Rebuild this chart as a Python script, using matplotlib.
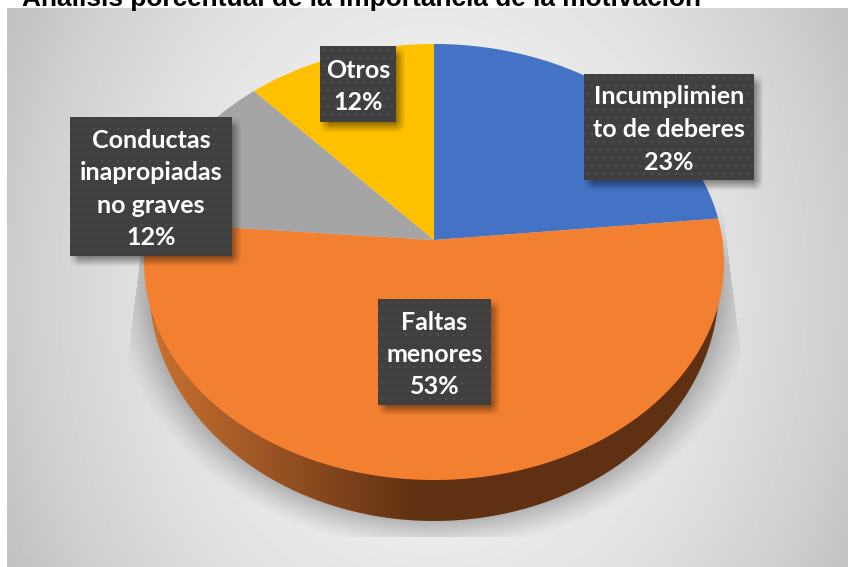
import numpy as np
import matplotlib
matplotlib.use("Agg")
import matplotlib.pyplot as plt
from matplotlib.patches import Polygon

W, H = 848, 567

title = "Análisis porcentual de la importancia de la motivación"
names = ["Incumplimien\nto de deberes", "Faltas\nmenores", "Conductas\ninapropiadas\nno graves", "Otros"]
shares = [23.4, 52.9, 12.0, 11.7]
colors = ["#4472C4", "#F37F31", "#A5A5A5", "#FFC000"]
# label boxes: left, top, right, bottom in pixels
boxes = [(584, 74, 754, 180), (378, 299, 491, 405), (70, 117, 232, 256), (320, 46, 396, 122)]

# pie in perspective
cx, cy = 434, 240
k = 0.1009
A, B = 288.5, 215.8
# rim of the bottom face
low_cy, low_rx, low_ry = 285, 285, 236


def project(theta):
    u, v = np.sin(theta), np.cos(theta)
    w = 1 + k * v
    return cx + A * u / w, cy - B * v / w


def box_shadow(ax, left, top, right, bottom, dx=4, dy=5, blur=5):
    xs = np.arange(left - 12, right + 18)
    ys = np.arange(top - 12, bottom + 18)
    xx, yy = np.meshgrid(xs, ys)
    ax_x = np.clip((xx - (left + dx) + blur) / (2 * blur), 0, 1) * np.clip(((right + dx) + blur - xx) / (2 * blur), 0, 1)
    ax_y = np.clip((yy - (top + dy) + blur) / (2 * blur), 0, 1) * np.clip(((bottom + dy) + blur - yy) / (2 * blur), 0, 1)
    img = np.zeros(xx.shape + (4,))
    img[..., 3] = 0.42 * ax_x * ax_y
    ax.imshow(img, extent=(xs[0], xs[-1] + 1, ys[-1] + 1, ys[0]), aspect="auto", zorder=5)


def box_fill(ax, left, top, right, bottom):
    xs = np.arange(left, right)
    ys = np.arange(top, bottom)
    xx, yy = np.meshgrid(xs, ys)
    img = np.full(xx.shape + (3,), 0x40 / 255)
    row = (yy - top - 3) // 4
    dots = ((yy - top - 3) % 8 < 2) & ((xx - left - 3 - 4 * (row // 2 % 2)) % 8 < 2)
    img[dots] = 0x4E / 255
    ax.imshow(img, extent=(left, right, bottom, top), aspect="auto", interpolation="nearest", zorder=6)


fig = plt.figure(figsize=(W / 100, H / 100), dpi=100, facecolor="white")
ax = fig.add_axes([0, 0, 1, 1])

# panel background
xx, yy = np.meshgrid(np.arange(7, W) + 0.5, np.arange(8, H) + 0.5)
rho = ((xx - 434) / 560) ** 2 + ((yy - 290) / 700) ** 2
grey = (0xF3 - 0x38 * rho / 0.81) / 255
ax.imshow(grey, cmap="gray", vmin=0, vmax=1, extent=(7, W, H, 8), aspect="auto", zorder=1)

# soft shadow under the pie
rho = np.sqrt(((xx - cx) / low_rx) ** 2 + ((yy - low_cy) / low_ry) ** 2)
dist = (rho - 1) * 260
alpha = 0.24 * np.clip(1 - dist / 34, 0, 1) ** 1.3 * np.clip((yy - 205) / 60, 0, 1)
left_lim = 147 + (yy - 205) * (125 - 147) / (380 - 205)
right_lim = 722 + (yy - 205) * (745 - 722) / (385 - 205)
alpha[(xx < left_lim) | (xx > right_lim) | (yy > 537)] = 0
shadow = np.zeros(xx.shape + (4,))
shadow[..., 3] = alpha
ax.imshow(shadow, extent=(7, W, H, 8), aspect="auto", zorder=2)

# side wall
t = np.linspace(0, 2 * np.pi, 361)
rim = Polygon(np.c_[cx + low_rx * np.cos(t), low_cy + low_ry * np.sin(t)], closed=True, transform=ax.transData, fc="none", ec="none")
ax.add_patch(rim)
wx = np.arange(140, 730) + 0.5
wall = np.stack([np.interp(wx, [150, 420], [c0, c1]) for c0, c1 in [(202, 95), (113, 48), (48, 18)]], axis=-1) / 255
wall_im = ax.imshow(wall[None, :, :], extent=(140, 730, 530, 250), aspect="auto", zorder=3)
wall_im.set_clip_path(rim)

# top face
start = 0.0
for share, color in zip(shares, colors):
    end = start + share
    theta = np.linspace(start, end, 200) / 100 * 2 * np.pi
    px, py = project(theta)
    ax.fill(np.r_[cx, px], np.r_[cy, py], color=color, lw=0, zorder=4)
    start = end

# labels
for name, share, (left, top, right, bottom) in zip(names, shares, boxes):
    box_shadow(ax, left, top, right, bottom)
    box_fill(ax, left, top, right, bottom)
    ax.text((left + right) / 2, (top + bottom) / 2 + 2.5, f"{name}\n{round(share)}%", color="white",
            family="Lato", weight="bold", fontsize=18, ha="center", va="center", linespacing=1.5, zorder=7)

ax.text(22, 6, title, family="Liberation Sans", weight="bold", fontsize=18.9, color="black", ha="left", va="baseline", zorder=8)

ax.set_xlim(0, W)
ax.set_ylim(H, 0)
ax.axis("off")
fig.savefig("out.png", dpi=100)
